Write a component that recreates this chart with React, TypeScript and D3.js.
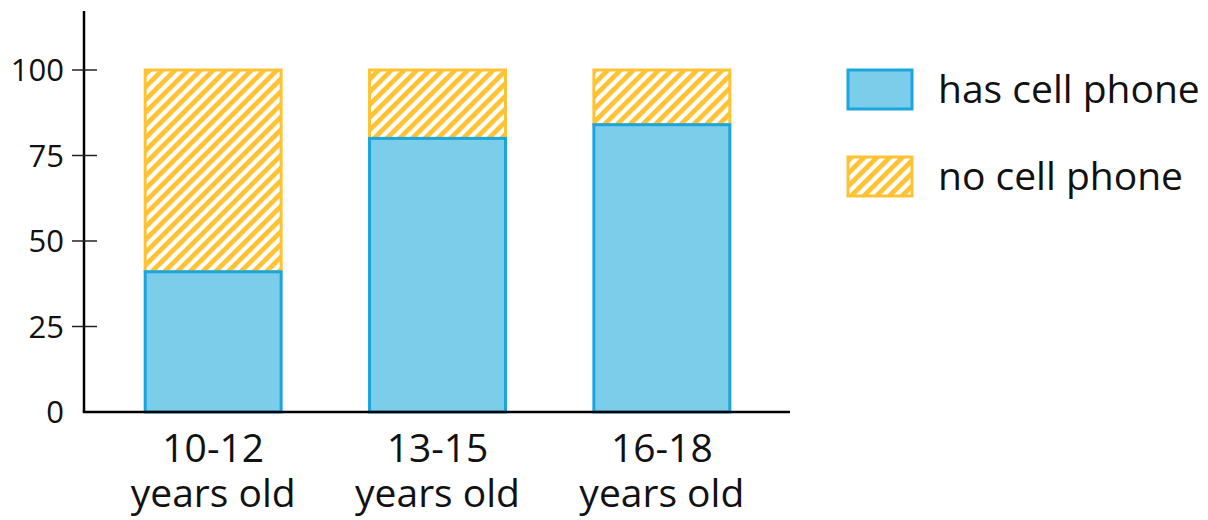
import React from "react";
import * as d3 from "d3";

const categories = ["10-12", "13-15", "16-18"];
const hasPhone = [41, 80, 84];
const noPhone = [59, 20, 16];
const yTicks = [0, 25, 50, 75, 100];
const legendLabels = ["has cell phone", "no cell phone"];

const W = 1208;
const H = 520;
const FONT = "'Open Sans', 'Noto Sans', sans-serif";
const BLUE_FILL = "#7CCDEA";
const BLUE_STROKE = "#1AA5DD";
const YELLOW = "#FFC233";

export default function App() {
  const x = d3.scaleBand<string>().domain(categories).range([101, 774]).paddingInner(0.394).paddingOuter(0.197);
  const y = d3.scaleLinear().domain([0, 100]).range([412, 70]);
  const axisX = 84;
  const axisTop = 11;
  const axisRight = 790;

  return (
    <svg width={W} height={H} style={{ position: "absolute", left: 0, top: 0, background: "#fff" }} fontFamily={FONT}>
      <defs>
        <pattern id="hatch" patternUnits="userSpaceOnUse" width={9} height={9} patternTransform="rotate(45)">
          <rect x={0} y={0} width={9} height={9} fill="#fff" />
          <rect x={0} y={0} width={4.8} height={9} fill={YELLOW} />
        </pattern>
      </defs>
      {categories.map((c, i) => {
        const x0 = x(c)!;
        const bw = x.bandwidth();
        const yHas = y(hasPhone[i]);
        const yTop = y(hasPhone[i] + noPhone[i]);
        return (
          <g key={c}>
            <rect x={x0} y={yTop} width={bw} height={yHas - yTop} fill="url(#hatch)" stroke={YELLOW} strokeWidth={3} />
            <rect x={x0} y={yHas} width={bw} height={y(0) - yHas} fill={BLUE_FILL} stroke={BLUE_STROKE} strokeWidth={3} />
          </g>
        );
      })}
      {/* axes */}
      <line x1={axisX} x2={axisX} y1={axisTop} y2={y(0)} stroke="#000" strokeWidth={2.5} />
      <line x1={axisX - 1.25} x2={axisRight} y1={y(0)} y2={y(0)} stroke="#000" strokeWidth={2.5} />
      {yTicks.map((t) => (
        <g key={t}>
          {t > 0 && <line x1={72} x2={97} y1={y(t)} y2={y(t)} stroke="#222" strokeWidth={1.5} />}
          <text x={64} y={y(t)} dy="0.36em" textAnchor="end" fontSize={31} fill="#111">
            {t}
          </text>
        </g>
      ))}
      {categories.map((c) => {
        const cx = x(c)! + x.bandwidth() / 2;
        return (
          <text key={c} x={cx} textAnchor="middle" fontSize={39} fill="#111">
            <tspan x={cx} y={462}>{c}</tspan>
            <tspan x={cx} y={507}>years old</tspan>
          </text>
        );
      })}
      {/* legend */}
      <rect x={848} y={70} width={64} height={39} fill={BLUE_FILL} stroke={BLUE_STROKE} strokeWidth={3} />
      <rect x={848} y={157} width={64} height={39} fill="url(#hatch)" stroke={YELLOW} strokeWidth={3} />
      <text x={938} y={103} fontSize={39} fill="#111">{legendLabels[0]}</text>
      <text x={938} y={190} fontSize={39} fill="#111">{legendLabels[1]}</text>
    </svg>
  );
}
